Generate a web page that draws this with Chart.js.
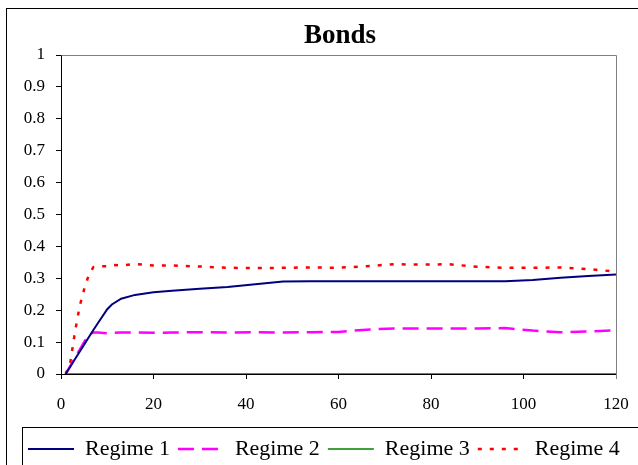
<!DOCTYPE html>
<html><head><meta charset="utf-8">
<script src="https://cdn.jsdelivr.net/npm/chart.js@4/dist/chart.umd.min.js"></script>
<style>html,body{margin:0;padding:0;overflow:hidden;background:#fff;width:638px;height:465px}canvas{display:block}</style>
</head><body>
<canvas id="c" width="660" height="470"></canvas>
<script>
const chartTitle = 'Bonds';
const seriesNames = ['Regime 1', 'Regime 2', 'Regime 3', 'Regime 4'];
const horizons = [1, 2, 3, 4, 5, 6, 7, 8, 10, 11, 13, 16, 20, 24, 30, 36, 42, 48, 54, 60, 66, 72, 78, 84, 90, 96, 102, 108, 114, 120];
const regime1 = [0, 0.023, 0.046, 0.069, 0.092, 0.115, 0.138, 0.16, 0.203, 0.218, 0.236, 0.248, 0.256, 0.261, 0.267, 0.273, 0.281, 0.29, 0.291, 0.291, 0.291, 0.291, 0.291, 0.291, 0.291, 0.291, 0.295, 0.302, 0.307, 0.312];
const regime2 = [0, 0.025, 0.05, 0.075, 0.1, 0.122, 0.13, 0.13, 0.128, 0.129, 0.13, 0.13, 0.129, 0.13, 0.131, 0.13, 0.131, 0.13, 0.131, 0.132, 0.139, 0.143, 0.143, 0.143, 0.143, 0.144, 0.136, 0.131, 0.133, 0.137];
const regime3 = [0, 0, 0, 0, 0, 0, 0, 0, 0, 0, 0, 0, 0, 0, 0, 0, 0, 0, 0, 0, 0, 0, 0, 0, 0, 0, 0, 0, 0, 0];
const regime4 = [0, 0.035, 0.13, 0.21, 0.265, 0.31, 0.335, 0.337, 0.338, 0.342, 0.34, 0.345, 0.34, 0.34, 0.337, 0.333, 0.332, 0.333, 0.334, 0.333, 0.338, 0.344, 0.343, 0.344, 0.336, 0.333, 0.333, 0.334, 0.329, 0.321];
const xTickValues = [0, 20, 40, 60, 80, 100, 120];
const yTickValues = [0, 0.1, 0.2, 0.3, 0.4, 0.5, 0.6, 0.7, 0.8, 0.9, 1];

const serif = "'Liberation Serif', 'Times New Roman', serif";
Chart.defaults.font.family = serif;
Chart.defaults.color = '#000';

const pts = arr => horizons.map((h, i) => ({x: h, y: arr[i]}));

const framePlugin = {
  id: 'frame',
  beforeDatasetsDraw(chart) {
    const {ctx, chartArea: a} = chart;
    ctx.save();
    ctx.strokeStyle = '#808080';
    ctx.lineWidth = 1;
    ctx.beginPath();
    ctx.moveTo(Math.round(a.left) + 0.5, Math.round(a.top) + 0.5);
    ctx.lineTo(Math.round(a.right) + 0.5, Math.round(a.top) + 0.5);
    ctx.lineTo(Math.round(a.right) + 0.5, Math.round(a.bottom) + 5);
    ctx.stroke();
    ctx.restore();
  },
  afterDraw(chart) {
    const {ctx} = chart;
    ctx.save();
    ctx.strokeStyle = '#000';
    ctx.lineWidth = 1;
    ctx.strokeRect(6.5, 8.5, 800, 600);
    const hb = chart.legend.legendHitBoxes[0];
    ctx.strokeRect(Math.round(hb.left - 6) + 0.5, Math.round(hb.top - 11) + 0.5, 800, 200);
    ctx.restore();
  }
};

new Chart(document.getElementById('c'), {
  type: 'line',
  data: {
    datasets: [
      {label: seriesNames[0], data: pts(regime1), borderColor: '#000080', backgroundColor: '#000080', borderWidth: 2},
      {label: seriesNames[1], data: pts(regime2), borderColor: '#FF00FF', backgroundColor: '#FF00FF', borderWidth: 2.5, borderDash: [16, 8]},
      {label: seriesNames[2], data: pts(regime3), borderColor: '#008000', backgroundColor: '#008000', borderWidth: 1.5},
      {label: seriesNames[3], data: pts(regime4), borderColor: '#FF0000', backgroundColor: '#FF0000', borderWidth: 2.5, borderDash: [4, 8]}
    ]
  },
  options: {
    responsive: false,
    animation: false,
    events: [],
    elements: {point: {radius: 0}, line: {tension: 0}},
    layout: {padding: {left: 20, right: 0, top: 8, bottom: 0}},
    plugins: {
      title: {display: true, text: chartTitle, color: '#000', font: {family: serif, size: 27, weight: 'bold'}, padding: {top: 12, bottom: 2.6}},
      legend: {
        position: 'bottom', align: 'start',
        labels: {
          usePointStyle: true, pointStyle: 'line', pointStyleWidth: 46, padding: 8, color: '#000', font: {family: serif, size: 22},
          generateLabels: chart => chart.data.datasets.map((ds, i) => ({
            text: ds.label,
            datasetIndex: i,
            fillStyle: ds.borderColor,
            strokeStyle: ds.borderColor,
            fontColor: '#000',
            lineWidth: ds.borderWidth,
            lineDash: ds.borderDash || [],
            lineCap: 'butt',
            pointStyle: 'line',
            hidden: false
          }))
        }
      },
      tooltip: {enabled: false}
    },
    scales: {
      x: {
        type: 'linear', min: 0, max: 120,
        afterBuildTicks: s => { s.ticks = xTickValues.map(v => ({value: v})); },
        afterFit: s => { s.height = 56; s.paddingRight = 44; },
        ticks: {padding: 15, color: '#000', font: {family: serif, size: 17}, maxRotation: 0, callback: v => String(v)},
        grid: {drawOnChartArea: false, drawTicks: true, tickLength: 5, color: '#000'},
        border: {display: true, color: '#000'}
      },
      y: {
        min: 0, max: 1,
        afterBuildTicks: s => { s.ticks = yTickValues.map(v => ({value: v})); },
        afterFit: s => { s.width = 41; },
        ticks: {padding: 11, color: '#000', font: {family: serif, size: 17}, callback: v => String(Math.round(v * 10) / 10)},
        grid: {drawOnChartArea: false, drawTicks: true, tickLength: 5, color: '#000'},
        border: {display: true, color: '#000'}
      }
    }
  },
  plugins: [framePlugin]
});
</script>
</body></html>
